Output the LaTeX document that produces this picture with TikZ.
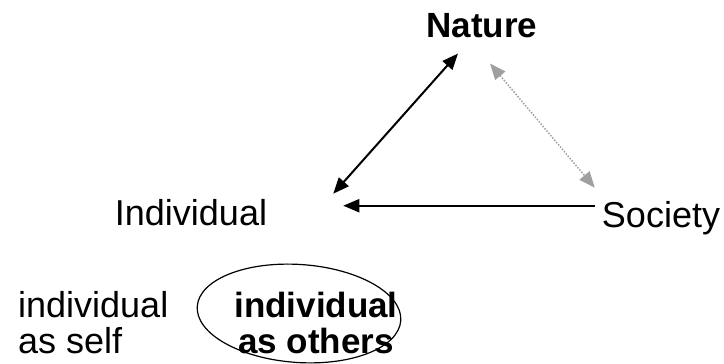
\documentclass[tikz,border=0pt]{standalone}
\usepackage{fontspec}
\setmainfont{Liberation Sans}
\usepackage{tikz}
\usetikzlibrary{arrows.meta,calc,positioning}
\tikzset{
  lbl/.style={inner sep=2bp,font=\fontsize{36bp}{36bp}\selectfont},
  boldlbl/.style={inner sep=2bp,font=\fontsize{35bp}{36bp}\selectfont\bfseries},
  link/.style={line width=2bp,-{Triangle[length=16bp,width=13bp]}},
  dotlink/.style={line width=1.5bp,draw=gray!75,dash pattern=on 1.5bp off 1.5bp,{Triangle[length=16bp,width=13bp]}-{Triangle[length=16bp,width=13bp]}}
}
\begin{document}
\begin{tikzpicture}[x=1bp,y=-1bp]
\useasboundingbox (0,0) rectangle (724,363);
\node[boldlbl,anchor=base] (nature) at (482,37) {Nature};
\node[lbl,anchor=base] (individual) at (191,225) {Individual};
\node[lbl,anchor=base] (society) at (661,227) {Society};
\node[lbl,anchor=base west,align=left] (self) at (16,353) {individual\\as self};
\node[boldlbl,anchor=base,align=center] (others) at (316,353) {individual\\as others};
\coordinate (natL) at ($(nature.south)+(-24,14)$);
\coordinate (natR) at ($(nature.south)+(8,24)$);
\coordinate (indU) at ($(individual.north east)+(64,-3)$);
\coordinate (indR) at ($(individual.north east)+(74,9)$);
\coordinate (socL) at ($(society.north west)+(-5,7)$);
\coordinate (socU) at ($(society.north west)+(-5,-11)$);
\draw[link,{Triangle[length=16bp,width=13bp]}-{Triangle[length=16bp,width=13bp]}] (indU) -- (natL);
\draw[link] (socL) -- (indR);
\draw[dotlink] (natR) -- (socU);
\draw[line width=1.2bp] ($(others.center)+(-17,-9)$) ellipse [x radius=102,y radius=49,rotate=-4];
\end{tikzpicture}
\end{document}
